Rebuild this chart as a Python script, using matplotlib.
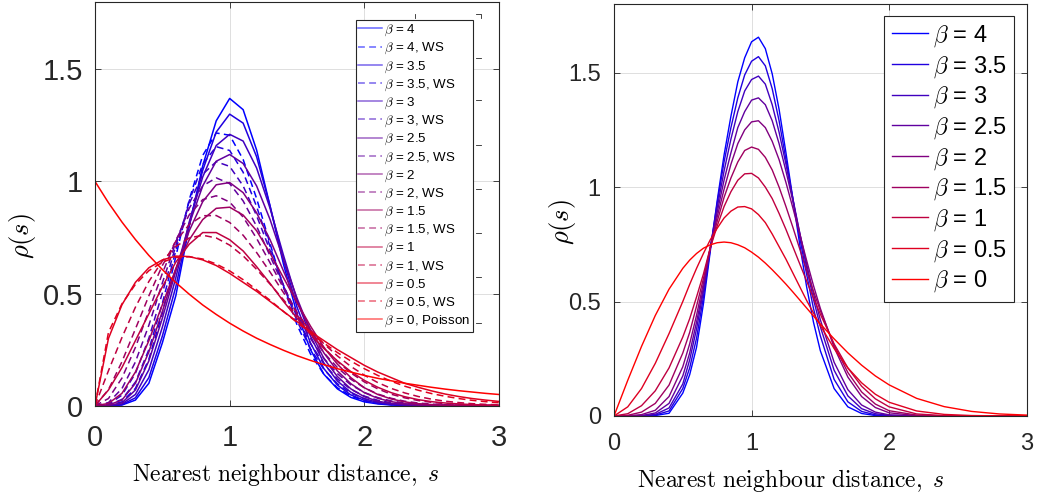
import matplotlib
matplotlib.use("Agg")
import matplotlib.pyplot as plt
from matplotlib.lines import Line2D

plt.rcParams['font.family'] = ['Liberation Sans', 'DejaVu Sans']
plt.rcParams['mathtext.fontset'] = 'cm'

# ---------------- data: left panel (1D) ----------------
s_left = [0.0, 0.1, 0.2, 0.3, 0.4, 0.5, 0.6, 0.7, 0.8, 0.9, 1.0, 1.1, 1.2, 1.3, 1.4, 1.5,
          1.6, 1.7, 1.8, 1.9, 2.0, 2.1, 2.2, 2.3, 2.4, 2.5, 2.6, 2.7, 2.8, 2.9, 3.0]

poisson = [1.000, 0.905, 0.819, 0.741, 0.670, 0.607, 0.549, 0.497, 0.449, 0.407, 0.368, 0.333,
           0.301, 0.273, 0.247, 0.223, 0.202, 0.183, 0.165, 0.150, 0.135, 0.122, 0.111, 0.100,
           0.091, 0.082, 0.074, 0.067, 0.061, 0.055, 0.050]

sol_4 = [0, 0, 0.003, 0.025, 0.10, 0.28, 0.49, 0.80, 1.07, 1.27, 1.37, 1.32, 1.14, 0.89, 0.63, 0.41,
         0.25, 0.14, 0.075, 0.037, 0.017, 0.008, 0.003, 0.001, 0, 0, 0, 0, 0, 0, 0]
sol_35 = [0, 0, 0.005, 0.035, 0.125, 0.31, 0.53, 0.81, 1.05, 1.22, 1.30, 1.26, 1.11, 0.89, 0.65, 0.44,
          0.28, 0.165, 0.092, 0.048, 0.024, 0.011, 0.005, 0.002, 0.001, 0, 0, 0, 0, 0, 0]
sol_3 = [0, 0.0005, 0.008, 0.05, 0.16, 0.35, 0.57, 0.82, 1.02, 1.16, 1.21, 1.18, 1.06, 0.88, 0.67, 0.47,
         0.31, 0.19, 0.11, 0.06, 0.031, 0.015, 0.007, 0.003, 0.001, 0, 0, 0, 0, 0, 0]
sol_25 = [0, 0.001, 0.013, 0.07, 0.20, 0.39, 0.60, 0.81, 0.98, 1.09, 1.12, 1.08, 0.98, 0.83, 0.65, 0.48,
          0.33, 0.21, 0.13, 0.075, 0.04, 0.02, 0.01, 0.005, 0.002, 0.001, 0, 0, 0, 0, 0]
sol_2 = [0, 0.003, 0.025, 0.10, 0.24, 0.42, 0.61, 0.78, 0.91, 0.985, 0.995, 0.95, 0.86, 0.74, 0.60, 0.46,
         0.34, 0.235, 0.155, 0.098, 0.058, 0.033, 0.018, 0.009, 0.004, 0.002, 0.001, 0, 0, 0, 0]
sol_15 = [0, 0.01, 0.055, 0.15, 0.29, 0.45, 0.61, 0.74, 0.83, 0.88, 0.885, 0.85, 0.78, 0.68, 0.57, 0.46,
          0.355, 0.26, 0.185, 0.125, 0.08, 0.05, 0.03, 0.017, 0.009, 0.005, 0.002, 0.001, 0, 0, 0]
sol_1 = [0, 0.07, 0.17, 0.29, 0.41, 0.53, 0.64, 0.72, 0.772, 0.772, 0.74, 0.69, 0.62, 0.545, 0.465, 0.39,
         0.32, 0.255, 0.20, 0.152, 0.113, 0.082, 0.058, 0.04, 0.027, 0.018, 0.012, 0.008, 0.005, 0.003, 0.002]
sol_05 = [0, 0.30, 0.45, 0.55, 0.615, 0.65, 0.667, 0.665, 0.65, 0.625, 0.59, 0.55, 0.51, 0.465, 0.42, 0.375,
          0.33, 0.29, 0.25, 0.215, 0.18, 0.15, 0.125, 0.10, 0.082, 0.066, 0.052, 0.041, 0.032, 0.025, 0.019]

ws_4 = [0, 0.001, 0.017, 0.077, 0.207, 0.412, 0.665, 0.919, 1.116, 1.216, 1.206, 1.098, 0.924, 0.722, 0.528, 0.361,
        0.231, 0.140, 0.080, 0.043, 0.022, 0.010, 0.005, 0.002, 0.001, 0, 0, 0, 0, 0, 0]
ws_35 = [0, 0.003, 0.028, 0.105, 0.250, 0.456, 0.692, 0.913, 1.077, 1.155, 1.138, 1.041, 0.888, 0.710, 0.534, 0.379,
         0.254, 0.162, 0.098, 0.056, 0.031, 0.016, 0.008, 0.004, 0.002, 0.001, 0, 0, 0, 0, 0]
ws_3 = [0, 0.006, 0.047, 0.144, 0.301, 0.502, 0.714, 0.901, 1.032, 1.088, 1.067, 0.980, 0.847, 0.692, 0.537, 0.396,
        0.277, 0.186, 0.119, 0.073, 0.043, 0.024, 0.013, 0.007, 0.003, 0.002, 0.001, 0, 0, 0, 0]
ws_25 = [0, 0.014, 0.076, 0.195, 0.359, 0.547, 0.730, 0.881, 0.980, 1.016, 0.990, 0.913, 0.800, 0.668, 0.534, 0.408,
         0.300, 0.211, 0.143, 0.093, 0.059, 0.036, 0.021, 0.012, 0.006, 0.003, 0.002, 0.001, 0, 0, 0]
ws_2 = [0, 0.032, 0.123, 0.260, 0.423, 0.590, 0.738, 0.851, 0.919, 0.936, 0.908, 0.841, 0.746, 0.637, 0.524, 0.416,
        0.319, 0.236, 0.170, 0.118, 0.080, 0.052, 0.033, 0.020, 0.012, 0.007, 0.004, 0.002, 0.001, 0.001, 0]
ws_15 = [0, 0.072, 0.196, 0.342, 0.490, 0.625, 0.733, 0.808, 0.847, 0.848, 0.817, 0.760, 0.683, 0.596, 0.504, 0.415,
         0.333, 0.259, 0.197, 0.146, 0.106, 0.075, 0.051, 0.035, 0.023, 0.015, 0.009, 0.006, 0.003, 0.002, 0.001]
ws_1 = [0, 0.156, 0.304, 0.439, 0.554, 0.645, 0.710, 0.748, 0.760, 0.748, 0.716, 0.668, 0.608, 0.542, 0.472, 0.402,
        0.337, 0.276, 0.222, 0.175, 0.136, 0.103, 0.077, 0.057, 0.041, 0.029, 0.020, 0.014, 0.009, 0.006, 0.004]
ws_05 = [0, 0.327, 0.454, 0.541, 0.602, 0.640, 0.661, 0.664, 0.654, 0.632, 0.601, 0.562, 0.517, 0.470, 0.420, 0.371,
         0.324, 0.279, 0.237, 0.199, 0.165, 0.135, 0.109, 0.087, 0.069, 0.054, 0.042, 0.032, 0.024, 0.018, 0.013]

betas_left = [4, 3.5, 3, 2.5, 2, 1.5, 1, 0.5]
beta_labels_left = ['4', '3.5', '3', '2.5', '2', '1.5', '1', '0.5']
solid_left = [sol_4, sol_35, sol_3, sol_25, sol_2, sol_15, sol_1, sol_05]
ws_left = [ws_4, ws_35, ws_3, ws_25, ws_2, ws_15, ws_1, ws_05]

# ---------------- data: right panel ----------------
s_right = [0.0, 0.1, 0.2, 0.3, 0.4, 0.5, 0.55, 0.6, 0.65, 0.7, 0.75, 0.8, 0.85, 0.9, 0.95, 1.0,
           1.05, 1.1, 1.15, 1.2, 1.25, 1.3, 1.35, 1.4, 1.45, 1.5, 1.6, 1.7, 1.8, 1.9, 2.0,
           2.2, 2.4, 2.6, 2.8, 3.0]

r_4 = [0, 0, 0, 0.002, 0.012, 0.10, 0.18, 0.30, 0.49, 0.72, 0.94, 1.14, 1.31, 1.46, 1.565, 1.635,
       1.655, 1.605, 1.495, 1.34, 1.15, 0.95, 0.75, 0.565, 0.41, 0.285, 0.12, 0.04, 0.011, 0.002, 0,
       0, 0, 0, 0, 0]
r_35 = [0, 0, 0, 0.004, 0.022, 0.12, 0.21, 0.34, 0.52, 0.73, 0.93, 1.11, 1.26, 1.39, 1.49, 1.55,
        1.57, 1.53, 1.43, 1.29, 1.12, 0.95, 0.78, 0.62, 0.47, 0.35, 0.16, 0.062, 0.02, 0.005, 0.001,
        0, 0, 0, 0, 0]
r_3 = [0, 0, 0.0005, 0.007, 0.035, 0.14, 0.245, 0.38, 0.545, 0.735, 0.91, 1.07, 1.21, 1.33, 1.42, 1.47,
       1.485, 1.45, 1.36, 1.24, 1.10, 0.95, 0.80, 0.65, 0.51, 0.39, 0.20, 0.088, 0.032, 0.01, 0.003,
       0, 0, 0, 0, 0]
r_25 = [0, 0.0002, 0.002, 0.013, 0.055, 0.175, 0.275, 0.41, 0.56, 0.735, 0.89, 1.03, 1.15, 1.26, 1.33, 1.38,
        1.39, 1.36, 1.29, 1.19, 1.07, 0.94, 0.80, 0.665, 0.535, 0.42, 0.235, 0.115, 0.048, 0.017, 0.005,
        0.0004, 0, 0, 0, 0]
r_2 = [0, 0.0008, 0.006, 0.025, 0.085, 0.215, 0.315, 0.44, 0.58, 0.735, 0.87, 0.99, 1.10, 1.19, 1.25, 1.285,
       1.29, 1.26, 1.20, 1.12, 1.02, 0.91, 0.795, 0.68, 0.57, 0.47, 0.30, 0.17, 0.085, 0.037, 0.014,
       0.0015, 0, 0, 0, 0]
r_15 = [0, 0.003, 0.017, 0.055, 0.135, 0.275, 0.365, 0.48, 0.60, 0.735, 0.85, 0.955, 1.04, 1.11, 1.16, 1.175,
        1.165, 1.13, 1.075, 1.0, 0.915, 0.825, 0.73, 0.635, 0.545, 0.46, 0.31, 0.19, 0.105, 0.052, 0.023,
        0.004, 0.0005, 0, 0, 0]
r_1 = [0, 0.01, 0.045, 0.11, 0.21, 0.345, 0.425, 0.52, 0.62, 0.735, 0.83, 0.915, 0.98, 1.03, 1.058, 1.06,
       1.04, 1.0, 0.95, 0.885, 0.815, 0.74, 0.665, 0.59, 0.515, 0.445, 0.315, 0.21, 0.13, 0.075, 0.04,
       0.009, 0.0015, 0.0002, 0, 0]
r_05 = [0, 0.04, 0.12, 0.23, 0.36, 0.50, 0.575, 0.645, 0.71, 0.77, 0.82, 0.865, 0.895, 0.913, 0.915, 0.905,
        0.88, 0.845, 0.795, 0.74, 0.685, 0.625, 0.565, 0.505, 0.45, 0.395, 0.295, 0.21, 0.145, 0.095, 0.06,
        0.022, 0.007, 0.002, 0.0005, 0]
r_0 = [0, 0.156, 0.304, 0.439, 0.554, 0.645, 0.681, 0.710, 0.733, 0.748, 0.757, 0.760, 0.757, 0.748, 0.735, 0.716,
       0.694, 0.668, 0.639, 0.608, 0.576, 0.542, 0.507, 0.472, 0.437, 0.402, 0.337, 0.276, 0.222, 0.175, 0.136,
       0.077, 0.041, 0.020, 0.009, 0.004]

betas_right = [4, 3.5, 3, 2.5, 2, 1.5, 1, 0.5, 0]
beta_labels_right = ['4', '3.5', '3', '2.5', '2', '1.5', '1', '0.5', '0']
curves_right = [r_4, r_35, r_3, r_25, r_2, r_15, r_1, r_05, r_0]

xticks = [0, 1, 2, 3]
yticks = [0, 0.5, 1, 1.5]
ytick_labels = ['0', '0.5', '1', '1.5']
xlabel_text = r'$\mathrm{Nearest\ neighbour\ distance,}\ s$'
ylabel_text = r'$\rho(s)$'


def beta_color(b):
    t = b / 4.0
    return (1.0 - t, 0.0, t)


W, H = 1041, 496
fig = plt.figure(figsize=(W / 100, H / 100), dpi=100)
ax1 = fig.add_axes([95 / W, 1 - 405.7 / H, (499 - 95) / W, (405.7 - 2) / H])
ax2 = fig.add_axes([614 / W, 1 - 416 / H, (1026.7 - 614) / W, (416 - 4) / H])


def style(ax, fs, padx, pady):
    ax.set_xlim(0, 3)
    ax.set_ylim(0, 1.8)
    ax.set_xticks(xticks)
    ax.set_xticklabels([str(v) for v in xticks])
    ax.set_yticks(yticks)
    ax.set_yticklabels(ytick_labels)
    ax.tick_params(direction='in', top=True, right=True, length=4, width=0.6,
                   color='0.15', labelcolor='0.15', labelsize=fs)
    ax.tick_params(axis='x', pad=padx)
    ax.tick_params(axis='y', pad=pady)
    ax.grid(True, color='0.87', linewidth=0.7)
    ax.set_axisbelow(True)
    for sp in ax.spines.values():
        sp.set_color('0.15')
        sp.set_linewidth(0.8)


style(ax1, 21, 13.0, 8.5)
style(ax2, 17, 12.5, 9.5)

# left panel curves
for b, lab, ys, yw in zip(betas_left, beta_labels_left, solid_left, ws_left):
    c = beta_color(b)
    ax1.plot(s_left, ys, '-', color=c, lw=1.1, label=r'$\beta$ = ' + lab)
    ax1.plot(s_left, yw, color=c, lw=1.1, linestyle=(0, (4.5, 2.8)), label=r'$\beta$ = ' + lab + ', WS')
ax1.plot(s_left, poisson, '-', color=beta_color(0), lw=1.1, label=r'$\beta$ = 0, Poisson')

leg1 = ax1.legend(loc='upper right', bbox_to_anchor=(473 / W, 1 - 20 / H), bbox_transform=fig.transFigure,
                  fontsize=9.6, handlelength=1.75, handletextpad=0.15, labelspacing=0.21, borderpad=0.22,
                  borderaxespad=0, fancybox=False, framealpha=1, edgecolor='0.15')
leg1.get_frame().set_linewidth(0.8)
for h in leg1.get_lines():
    h.set_alpha(0.6)

ax1.set_xlabel(xlabel_text, fontsize=17)
ax1.xaxis.set_label_coords((286 - 95) / 404, -0.137)
ax1.set_ylabel(ylabel_text, fontsize=19)
ax1.yaxis.set_label_coords(-0.142, 0.42)

# small partial frame remnant visible at the left panel's legend edge
for yy in [58, 100, 145, 189, 233, 277, 323]:
    fig.add_artist(Line2D([476 / W, 481 / W], [1 - yy / H, 1 - yy / H], transform=fig.transFigure,
                          color='0.15', lw=0.6))
fig.add_artist(Line2D([476 / W, 481 / W, 481 / W], [1 - 14 / H, 1 - 14 / H, 1 - 18 / H],
                      transform=fig.transFigure, color='0.15', lw=0.6))
fig.add_artist(Line2D([415 / W, 415 / W], [1 - 14 / H, 1 - 18 / H], transform=fig.transFigure,
                      color='0.15', lw=0.6))

# right panel curves
for b, lab, ys in zip(betas_right, beta_labels_right, curves_right):
    ax2.plot(s_right, ys, '-', color=beta_color(b), lw=1.0, label=r'$\beta$ = ' + lab)

leg2 = ax2.legend(loc='upper right', bbox_to_anchor=(1014 / W, 1 - 16 / H), bbox_transform=fig.transFigure,
                  fontsize=17, handlelength=1.55, handletextpad=0.2, labelspacing=0.21, borderpad=0.3,
                  borderaxespad=0, fancybox=False, framealpha=1, edgecolor='0.15')
leg2.get_frame().set_linewidth(0.8)

ax2.set_xlabel(xlabel_text, fontsize=17)
ax2.xaxis.set_label_coords((791 - 614) / 412.7, -0.124)
ax2.set_ylabel(ylabel_text, fontsize=19)
ax2.yaxis.set_label_coords(-0.087, 0.47)

fig.savefig('out.png', dpi=100)
